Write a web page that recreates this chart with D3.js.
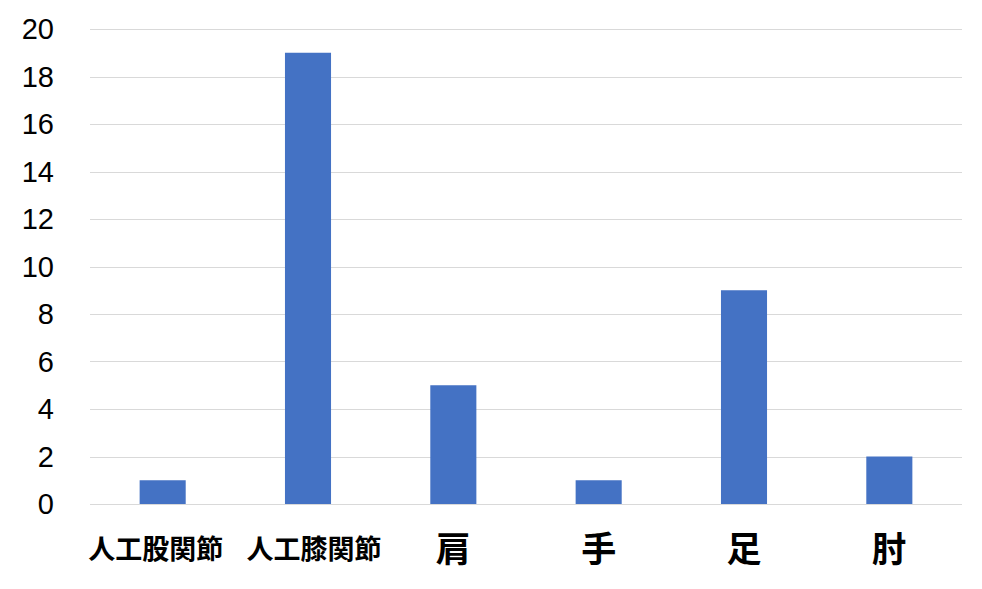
<!DOCTYPE html>
<html>
<head>
<meta charset="utf-8">
<script src="https://cdn.jsdelivr.net/npm/d3@7"></script>
<style>
  body { margin: 0; background: #fff; }
</style>
</head>
<body>
<svg id="chart"></svg>
<script>
// Data
const categories = ["人工股関節", "人工膝関節", "肩", "手", "足", "肘"];
const counts = [1, 19, 5, 1, 9, 2];
const yTicks = [0, 2, 4, 6, 8, 10, 12, 14, 16, 18, 20];

const width = 982, height = 589;
const margin = { top: 29, right: 20, bottom: 85, left: 90 };

const svg = d3.select("#chart")
    .attr("width", width)
    .attr("height", height);

const x = d3.scaleBand()
    .domain(categories)
    .range([margin.left, width - margin.right])
    .paddingInner(0.683)
    .paddingOuter(0.3415);

const y = d3.scaleLinear()
    .domain([0, 20])
    .range([height - margin.bottom, margin.top]);

// gridlines
svg.append("g")
    .selectAll("line")
    .data(yTicks)
    .enter().append("line")
    .attr("x1", margin.left)
    .attr("x2", width - margin.right)
    .attr("y1", d => Math.round(y(d)) + 0.5)
    .attr("y2", d => Math.round(y(d)) + 0.5)
    .attr("stroke", "#d9d9d9")
    .attr("stroke-width", 1);

// y axis labels
svg.append("g")
    .selectAll("text")
    .data(yTicks)
    .enter().append("text")
    .attr("x", 54)
    .attr("y", d => y(d))
    .attr("dy", "0.35em")
    .attr("text-anchor", "end")
    .style("font-family", "Liberation Sans, Arial, sans-serif")
    .style("font-size", "29px")
    .attr("fill", "#000")
    .text(d => d);

// bars
svg.append("g")
    .selectAll("rect")
    .data(counts)
    .enter().append("rect")
    .attr("x", (d, i) => x(categories[i]))
    .attr("width", x.bandwidth())
    .attr("y", d => y(d))
    .attr("height", d => y(0) - y(d))
    .attr("fill", "#4472c4");

// category labels (the two long labels sit a little off-centre in the original)
const labelShift = [-7, 6, 0, 0, 0, 0];
svg.append("g")
    .selectAll("text")
    .data(categories)
    .enter().append("text")
    .attr("x", (d, i) => x(d) + x.bandwidth() / 2 + labelShift[i])
    .attr("y", 550)
    .attr("dy", "0.35em")
    .attr("text-anchor", "middle")
    .style("font-family", "Noto Sans CJK JP, sans-serif")
    .style("font-weight", "bold")
    .style("font-size", d => d.length > 1 ? "27px" : "35px")
    .attr("fill", "#000")
    .text(d => d);
</script>
</body>
</html>
